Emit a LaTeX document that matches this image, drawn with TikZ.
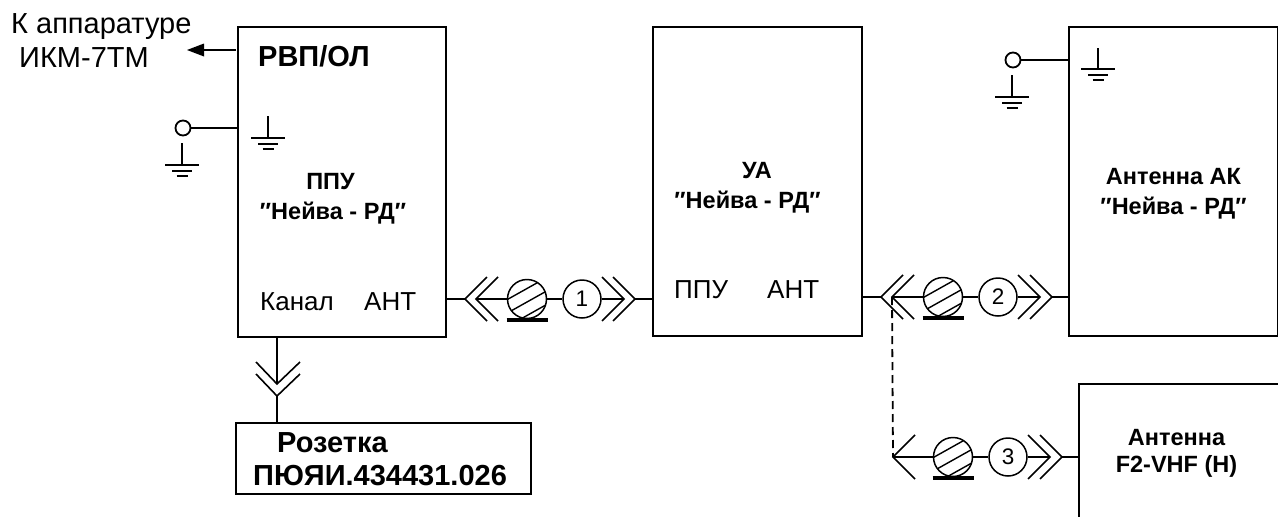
\documentclass[tikz,border=0pt]{standalone}
\usepackage{fontspec}
\setmainfont{Liberation Sans}
\begin{document}
\begin{tikzpicture}[x=1pt,y=-1pt,
  box/.style={line width=2.6pt},
  wire/.style={line width=1.5pt},
  chev/.style={line width=1.6pt},
  txt/.style={inner sep=0pt,anchor=base west,font=\fontsize{26}{30}\selectfont},
  btxt/.style={inner sep=0pt,anchor=base,align=center,font=\bfseries\fontsize{23.5}{29.5}\selectfont},
  ring/.style={circle,draw,line width=1.5pt,minimum size=38pt,inner sep=0pt,fill=white,font=\fontsize{22.5}{24}\selectfont},
  hatchc/.style={circle,draw,line width=1.5pt,minimum size=39pt,inner sep=0pt},
  term/.style={circle,draw,line width=1.8pt,minimum size=15pt,inner sep=0pt,fill=white}]
\useasboundingbox (0,0) rectangle (1278,517);
% boxes
\draw[box] (238,27) rectangle (446,337);
\coordinate (rvpE) at (446,299);
\coordinate (rvpS) at (277,337);
\coordinate (rvpW) at (238,128);
\coordinate (rvpT) at (236,50);
\draw[box] (653,27) rectangle (862,336);
\coordinate (uaW) at (653,299);
\coordinate (uaE) at (862,297);
\draw[box] (1278,27) -- (1069,27) -- (1069,336) -- (1278,336) -- cycle;
\coordinate (akW) at (1069,297);
\coordinate (akWt) at (1069,60);
\draw[box] (1278,384) -- (1079,384) -- (1079,517);
\coordinate (f2W) at (1079,457);
\draw[box] (236,423) rectangle (531,494);
\coordinate (rozN) at (277,423);
% macros
\newcommand{\gnd}[3]{%
  \draw[line width=1.6pt] (#1,#2) -- (#1,#3);
  \draw[line width=1.8pt] (#1-17,#3) -- (#1+17,#3);
  \draw[line width=1.8pt] (#1-10,#3+6) -- (#1+10,#3+6);
  \draw[line width=1.8pt] (#1-5.5,#3+11) -- (#1+5.5,#3+11);}
\newcommand{\lchev}[2]{\draw[chev] (#1+22,#2-22) -- (#1,#2) -- (#1+22,#2+22);}
\newcommand{\rchev}[2]{\draw[chev] (#1-22,#2-22) -- (#1,#2) -- (#1-22,#2+22);}
\newcommand{\hatched}[3]{%
  \begin{scope}
    \clip (#1,#2) circle (19.5);
    \foreach \d in {-24,-10.5,3,16.5}
      \draw[line width=1.4pt] (#1-25,#2+\d+14) -- (#1+25,#2+\d-14);
  \end{scope}
  \node[hatchc] (#3) at (#1,#2) {};
  \draw[line width=4pt] (#1-20.5,#2+21) -- (#1+21,#2+21);}
% connector 1
\hatched{527}{299}{h1}
\node[ring] (c1) at (582,299) {1};
\coordinate (l1o) at (465,299); \coordinate (l1i) at (476,299);
\coordinate (r1i) at (624,299); \coordinate (r1o) at (635,299);
\lchev{465}{299}\lchev{476}{299}\rchev{624}{299}\rchev{635}{299}
\draw[wire] (rvpE) -- (l1o);
\draw[wire] (l1i) -- (h1);
\draw[wire] (h1) -- (c1);
\draw[wire] (c1) -- (r1i);
\draw[wire] (r1o) -- (uaW);
% connector 2
\hatched{943}{297}{h2}
\node[ring] (c2) at (998,297) {2};
\coordinate (l2o) at (881,297); \coordinate (l2i) at (892,297);
\coordinate (r2i) at (1040,297); \coordinate (r2o) at (1052,297);
\lchev{881}{297}\lchev{892}{297}\rchev{1040}{297}\rchev{1052}{297}
\draw[wire] (uaE) -- (l2o);
\draw[wire] (l2i) -- (h2);
\draw[wire] (h2) -- (c2);
\draw[wire] (c2) -- (r2i);
\draw[wire] (r2o) -- (akW);
% connector 3
\hatched{953}{457}{h3}
\node[ring] (c3) at (1008,457) {3};
\coordinate (l3) at (893,457);
\coordinate (r3i) at (1050,457); \coordinate (r3o) at (1062,457);
\lchev{893}{457}\rchev{1050}{457}\rchev{1062}{457}
\draw[wire] (l3) -- (h3);
\draw[wire] (h3) -- (c3);
\draw[wire] (c3) -- (r3i);
\draw[wire] (r3o) -- (f2W);
\draw[line width=1.8pt,dash pattern=on 8pt off 5pt] (l2i) -- (l3);
% bottom connector
\coordinate (bi) at (277,384); \coordinate (bo) at (277,396);
\draw[chev] (256,362) -- (bi) -- (300,362);
\draw[chev] (256,374) -- (bo) -- (300,374);
\draw[wire] (rvpS) -- (bi);
\draw[wire] (bo) -- (rozN);
% grounds
\node[term] (t1) at (183,128) {};
\draw[wire] (t1) -- (rvpW);
\gnd{182}{143}{165}
\gnd{268}{116}{138}
\node[term] (t2) at (1013,60) {};
\draw[wire] (t2) -- (akWt);
\gnd{1012}{75}{97}
\gnd{1098}{48}{69}
% arrow
\coordinate (arrE) at (187,50);
\draw[wire] (rvpT) -- (200,50);
\fill (arrE) -- (204,43.5) -- (204,56.5) -- cycle;
% text
\node[inner sep=0pt,anchor=base west,align=left,font=\fontsize{29}{34}\selectfont] (t0) at (11,67) {К аппаратуре\\\hspace*{8pt}ИКМ-7ТМ};
\node[inner sep=0pt,anchor=base west,font=\bfseries\fontsize{29}{30}\selectfont] (tr) at (258,66) {РВП/ОЛ};
\node[btxt] (tp) at (333,219) {\hspace*{-5pt}ППУ\\″Нейва - РД″};
\node[txt] (tk) at (260,310) {Канал};
\node[txt] (ta) at (364,310) {АНТ};
\node[btxt] (tu) at (747.5,208) {\hspace*{19pt}УА\\″Нейва - РД″};
\node[txt] (tp2) at (674,298) {ППУ};
\node[txt] (ta2) at (767,298) {АНТ};
\node[btxt] (tak) at (1173.5,214) {Антенна АК\\″Нейва - РД″};
\node[btxt,font=\bfseries\fontsize{23.5}{27}\selectfont] (tf2) at (1176.5,472) {Антенна\\F2-VHF (H)};
\node[inner sep=0pt,anchor=base west,align=left,font=\bfseries\fontsize{29}{33}\selectfont] (tz) at (253,485) {\hspace*{24pt}Розетка\\ПЮЯИ.434431.026};
\end{tikzpicture}
\end{document}
